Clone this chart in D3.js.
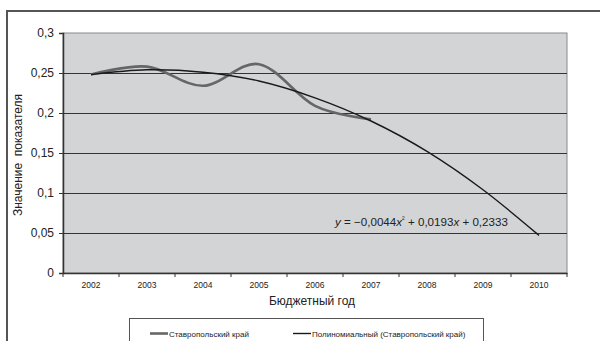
<!DOCTYPE html>
<html>
<head>
<meta charset="utf-8">
<script src="https://cdn.jsdelivr.net/npm/d3@7"></script>
<style>
  html, body { margin: 0; padding: 0; background: #fff; }
  svg { display: block; font-family: "Liberation Sans", Arial, sans-serif; }
</style>
</head>
<body>
<svg id="chart" width="600" height="341"></svg>
<script>
// Budget years on the category axis
const years = ["2002", "2003", "2004", "2005", "2006", "2007", "2008", "2009", "2010"];
// Observed indicator values, Stavropol krai (2002–2007)
const stavropolValues = [0.248, 0.258, 0.234, 0.261, 0.209, 0.192];
// Polynomial trend values, extended to 2010
const trendValues = [0.248, 0.254, 0.251, 0.240, 0.219, 0.190, 0.152, 0.104, 0.047];
// Value axis ticks
const yTicks = [0, 0.05, 0.1, 0.15, 0.2, 0.25, 0.3];
const seriesNames = ["Ставропольский край", "Полиномиальный (Ставропольский край)"];
const equationText = ["y", " = \u22120,0044", "x", "²", " + 0,0193", "x", " + 0,2333"];

const svg = d3.select("#chart");
const plot = { left: 63, top: 33, right: 567, bottom: 273 };

const x = d3.scaleBand().domain(years).range([plot.left, plot.right]).padding(0);
const y = d3.scaleLinear().domain([0, 0.3]).range([plot.bottom, plot.top]);
const fmt = v => String(v).replace(".", ",");

// Outer chart frame
svg.append("rect")
  .attr("x", 7).attr("y", 11).attr("width", 620).attr("height", 360)
  .attr("fill", "#fff").attr("stroke", "#555").attr("stroke-width", 2);

// Plot area background
svg.append("rect")
  .attr("x", plot.left).attr("y", plot.top)
  .attr("width", plot.right - plot.left).attr("height", plot.bottom - plot.top)
  .attr("fill", "#d3d4d6").attr("stroke", "#8a8a8a").attr("stroke-width", 1);

// Horizontal gridlines
svg.append("g").selectAll("line").data(yTicks.filter(d => d > 0 && d < 0.3)).join("line")
  .attr("x1", plot.left).attr("x2", plot.right)
  .attr("y1", d => Math.round(y(d)) + 0.5).attr("y2", d => Math.round(y(d)) + 0.5)
  .attr("stroke", "#333").attr("stroke-width", 1);

// Y axis
const yAxis = svg.append("g")
  .attr("transform", `translate(${plot.left},0)`)
  .call(d3.axisLeft(y).tickValues(yTicks).tickFormat(fmt).tickSize(4).tickPadding(5));
yAxis.select(".domain").attr("stroke", "#333").attr("stroke-width", 1.5);
yAxis.selectAll(".tick line").attr("stroke", "#333");
yAxis.selectAll("text").attr("font-size", 12).attr("fill", "#222")
  .attr("font-family", "Liberation Sans, Arial, sans-serif");

// X axis
const xAxis = svg.append("g")
  .attr("transform", `translate(0,${plot.bottom})`)
  .call(d3.axisBottom(x).tickSize(0).tickPadding(9));
xAxis.select(".domain").attr("stroke", "#333").attr("stroke-width", 1.5);
xAxis.selectAll("text").attr("font-size", 8.5).attr("fill", "#222")
  .attr("font-family", "Liberation Sans, Arial, sans-serif");
// Category boundary ticks
svg.append("g").selectAll("line").data(years.concat(["end"])).join("line")
  .attr("x1", (d, i) => plot.left + i * x.bandwidth())
  .attr("x2", (d, i) => plot.left + i * x.bandwidth())
  .attr("y1", plot.bottom).attr("y2", plot.bottom + 4)
  .attr("stroke", "#333").attr("stroke-width", 1);

// Axis titles
svg.append("text")
  .attr("transform", `translate(22,${(plot.top + plot.bottom) / 2 + 2}) rotate(-90)`)
  .attr("text-anchor", "middle").attr("font-size", 12).attr("fill", "#222")
  .text("Значение\u00a0 показателя");
svg.append("text")
  .attr("x", 312).attr("y", 305)
  .attr("text-anchor", "middle").attr("font-size", 12).attr("fill", "#222")
  .text("Бюджетный год");

// Series lines
const cx = (d, i) => x(years[i]) + x.bandwidth() / 2;
const line = d3.line().x(cx).y(d => y(d)).curve(d3.curveCatmullRom.alpha(0));

svg.append("path").datum(stavropolValues)
  .attr("d", line).attr("fill", "none")
  .attr("stroke", "#666").attr("stroke-width", 2.6);

svg.append("path").datum(trendValues)
  .attr("d", line).attr("fill", "none")
  .attr("stroke", "#1a1a1a").attr("stroke-width", 1.4);

// Trend equation
const eq = svg.append("text")
  .attr("x", 335).attr("y", 226)
  .attr("font-size", 11.6).attr("fill", "#222");
equationText.forEach((part, i) => {
  const t = eq.append("tspan").text(part);
  if (part === "x" || part === "y") t.attr("font-style", "italic");
  if (part === "²") t.attr("font-size", 8).attr("dy", -4);
  if (i === 4) t.attr("dy", 4);
});

// Legend
const legend = svg.append("g");
legend.append("rect")
  .attr("x", 129.5).attr("y", 318.5).attr("width", 354).attr("height", 40)
  .attr("fill", "#fff").attr("stroke", "#555").attr("stroke-width", 1);
const legendItems = [
  { name: seriesNames[0], x0: 150, color: "#666", w: 2.6 },
  { name: seriesNames[1], x0: 293, color: "#1a1a1a", w: 1.4 }
];
legendItems.forEach(it => {
  legend.append("line")
    .attr("x1", it.x0).attr("x2", it.x0 + 18)
    .attr("y1", 333.5).attr("y2", 333.5)
    .attr("stroke", it.color).attr("stroke-width", it.w);
  legend.append("text")
    .attr("x", it.x0 + 19).attr("y", 336.5)
    .attr("font-size", 8).attr("fill", "#222")
    .text(it.name);
});
</script>
</body>
</html>
